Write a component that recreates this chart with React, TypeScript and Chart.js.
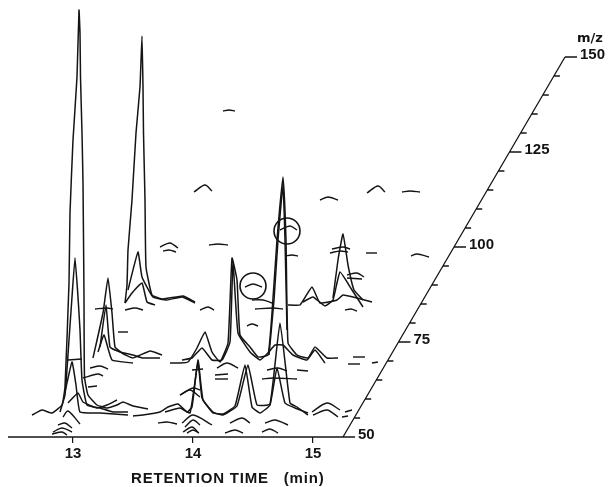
import { useEffect, useRef } from "react";
import { Chart, registerables } from "chart.js";

Chart.register(...registerables);

// x values are scan numbers (about 120 scans per minute), y values are relative heights on the plot plane
const rtTicks = [13, 14, 15];
const mzTickValues = [50, 55, 60, 65, 70, 75, 80, 85, 90, 95, 100, 105, 110, 115, 120, 125, 130, 135, 140, 145, 150];
const mzLabels = [50, 75, 100, 125, 150];

const frontA = { x: [32, 42, 52, 62, 65, 69, 70, 73, 77, 79, 80, 80.5, 82, 83, 84, 84.5, 88, 97, 107, 117, 123, 133, 148], y: [22, 27, 24, 32, 50, 154, 224, 297, 360, 427, 404, 360, 304, 254, 140, 60, 42, 32, 29, 32, 35, 31, 28] };
const frontB = { x: [60, 65, 69, 72, 75, 78, 80, 82, 87, 100, 113, 128], y: [25, 42, 97, 140, 179, 140, 107, 57, 32, 29, 25, 25] };
const frontC = { x: [65, 72, 76, 80, 100, 128], y: [45, 75, 52, 25, 24, 22] };
const frontD = { x: [68, 78, 83, 97, 107, 117], y: [34, 44, 35, 29, 32, 37] };
const frontE = { x: [133, 143, 160, 168, 178, 187, 192, 198, 203, 213, 223, 237, 248, 257, 270, 280, 290, 297, 308], y: [21, 22, 25, 30, 33, 25, 30, 77, 37, 25, 22, 31, 72, 32, 33, 114, 34, 30, 22] };
const frontF = { x: [165, 180, 190, 198, 202, 213, 223, 235, 245, 252, 260, 270, 277, 285, 295, 308], y: [25, 29, 24, 75, 39, 24, 23, 31, 72, 30, 24, 32, 69, 34, 29, 24] };

const midA = { x: [93, 103, 108, 112, 115, 122, 133, 150, 162], y: [79, 124, 159, 124, 90, 84, 79, 86, 82] };
const midB = { x: [100, 106, 110, 120, 133, 143, 160], y: [90, 132, 90, 85, 82, 79, 79] };
const midC = { x: [98, 104, 112, 133], y: [85, 102, 77, 74] };
const midD = { x: [170, 180, 188, 197, 205, 212, 220, 228, 232, 237, 240, 250, 258, 268, 272, 277, 283, 286, 288, 297, 308, 315, 327, 338], y: [74, 74, 75, 89, 105, 85, 75, 94, 179, 157, 102, 90, 80, 82, 124, 197, 260, 197, 94, 82, 79, 90, 79, 79] };
const midE = { x: [182, 192, 202, 212, 222, 230, 233, 238, 250, 260, 268, 275, 283, 293, 307, 315, 325], y: [77, 79, 89, 77, 77, 95, 175, 104, 85, 77, 84, 92, 92, 82, 77, 87, 74] };
const midF = { x: [269, 274, 278, 283, 285, 287], y: [82, 137, 197, 252, 197, 107] };

const backA = { x: [125, 127, 128, 132, 136, 140, 142, 143, 143.5, 145, 146, 152, 163, 183, 195], y: [134, 152, 187, 237, 304, 350, 401, 350, 304, 237, 170, 142, 138, 141, 135] };
const backB = { x: [128, 138, 142, 153, 167, 182, 195], y: [147, 185, 160, 140, 137, 140, 134] };
const backC = { x: [125, 132, 142, 147, 155], y: [134, 144, 154, 135, 132] };
const backD = { x: [288, 300, 312, 320, 337, 343, 357, 372], y: [132, 132, 150, 134, 137, 142, 139, 135] };
const backE = { x: [303, 313, 325, 333, 340, 352, 363], y: [135, 140, 131, 137, 165, 147, 130] };
const backF = { x: [333, 338, 343, 348, 354, 363], y: [139, 177, 203, 172, 147, 137] };

const mainTraces = [frontA, frontB, frontC, frontD, frontE, frontF, midA, midB, midC, midD, midE, midF, backA, backB, backC, backD, backE, backF];

// Low-intensity fragments: [x, height] runs
const shortArcs: number[][][] = [
  [[223, 326], [229, 327], [235, 326]], [[194, 245], [205, 252], [212, 246]], [[160, 190], [170, 194], [178, 189]],
  [[163, 186], [169, 187], [176, 185]], [[209, 192], [218, 193], [228, 192]], [[320, 237], [328, 240], [338, 237]],
  [[367, 244], [378, 251], [385, 245]], [[402, 245], [410, 246], [420, 245]], [[285, 181], [292, 182], [298, 181]],
  [[366, 184], [377, 184]], [[411, 181], [417, 183], [429, 180]], [[280, 207], [290, 211], [297, 207]],
  [[245, 150], [253, 153], [262, 150]], [[332, 188], [343, 190], [350, 188]], [[330, 184], [340, 186], [348, 185]],
  [[347, 162], [357, 164], [364, 160]], [[347, 159], [362, 158]], [[345, 127], [351, 128], [357, 126]],
  [[200, 127], [208, 130], [214, 127]], [[252, 137], [263, 137], [272, 134]], [[255, 128], [273, 129], [283, 128]],
  [[247, 111], [252, 113], [258, 111]], [[353, 80], [365, 80]], [[348, 73], [360, 73]], [[372, 74], [378, 75]],
  [[192, 67], [203, 68]], [[217, 69], [227, 74], [238, 69]], [[215, 62], [228, 63]], [[215, 58], [228, 58]],
  [[267, 67], [278, 69], [287, 66]], [[297, 67], [308, 66]], [[262, 58], [273, 59], [297, 58]],
  [[180, 42], [190, 47], [200, 40]], [[230, 14], [242, 19], [250, 14]], [[265, 14], [275, 17], [288, 12]],
  [[182, 14], [193, 22], [212, 12]], [[183, 5], [192, 10], [198, 5]], [[225, 4], [235, 7], [243, 4]],
  [[262, 5], [270, 8], [278, 4]], [[313, 22], [327, 27], [338, 20]], [[312, 25], [327, 34], [340, 27]],
  [[342, 20], [348, 21]], [[345, 25], [352, 27]], [[53, 5], [62, 9], [72, 5]], [[52, 3], [62, 5], [67, 2]],
  [[58, 12], [65, 14], [72, 9]], [[63, 20], [68, 26], [80, 13]], [[83, 59], [98, 63], [103, 61]],
  [[90, 69], [100, 71], [108, 68]], [[88, 50], [97, 51]], [[118, 105], [128, 105]],
  [[95, 128], [107, 129], [113, 128]], [[125, 127], [135, 129], [143, 127]], [[158, 14], [167, 15], [177, 13]],
  [[68, 77], [82, 78]], [[180, 42], [193, 49], [200, 47]], [[185, 10], [193, 17], [200, 12]], [[187, 4], [193, 7], [199, 4]],
];

const circledPeaks = [{ x: 287, y: 206 }, { x: 253, y: 151 }];
const baseLine = [{ x: 8, y: 0 }, { x: 355, y: 0 }];

const INK = "#141414";
const mzOrigin = 343;
const mzDx = 2.22;
const mzDy = 3.8;
const project = (mz: number) => ({ x: mzOrigin + (mz - 50) * mzDx, y: (mz - 50) * mzDy });

const gap = { x: NaN, y: NaN };
const mzAxisLine = () => {
  const pts: { x: number; y: number }[] = [project(50), project(150), gap];
  mzTickValues.forEach((m) => {
    if (m === 50) return;
    const p = project(m);
    const len = mzLabels.includes(m) ? 12 : 6;
    pts.push(p, { x: p.x + len, y: p.y }, gap);
  });
  return pts;
};

const textPlugin = {
  id: "mzText",
  afterDraw(chart: any) {
    const { ctx, scales } = chart;
    ctx.save();
    ctx.fillStyle = INK;
    ctx.textBaseline = "middle";
    ctx.textAlign = "left";
    ctx.font = "bold 15px 'Liberation Sans'";
    mzLabels.forEach((m) => {
      const p = project(m);
      ctx.fillText(String(m), scales.x.getPixelForValue(p.x) + 15, scales.y.getPixelForValue(p.y) - 2);
    });
    ctx.font = "bold 13px 'DejaVu Sans'";
    ctx.fillText("m/z", 577, 39);
    ctx.font = "bold 15px 'Liberation Sans'";
    ctx.letterSpacing = "0.8px";
    ctx.fillText("RETENTION TIME   (min)", 131, 479);
    ctx.restore();
  },
};

const line = (data: any[], width = 1.2, tension = 0) => ({
  type: "line" as const,
  data,
  borderColor: INK,
  borderWidth: width,
  pointRadius: 0,
  tension,
  fill: false,
  spanGaps: false,
  parsing: false as const,
});

export default function App() {
  const ref = useRef<HTMLCanvasElement>(null);
  useEffect(() => {
    const datasets: any[] = [
      line(baseLine, 1.4),
      line(mzAxisLine(), 1.3),
      ...mainTraces.map((t) => line(t.x.map((x, i) => ({ x, y: t.y[i] })), 1.5, 0.12)),
      ...shortArcs.map((a) => line(a.map(([x, y]) => ({ x, y })), 1.4, 0.3)),
      {
        type: "scatter",
        data: circledPeaks,
        showLine: false,
        pointRadius: 13,
        pointStyle: "circle",
        borderColor: INK,
        backgroundColor: "transparent",
        borderWidth: 1.6,
        parsing: false,
      },
    ];
    const chart = new Chart(ref.current!, {
      type: "scatter",
      data: { datasets },
      plugins: [textPlugin],
      options: {
        animation: false,
        responsive: false,
        layout: { padding: 0, autoPadding: false },
        plugins: { legend: { display: false }, tooltip: { enabled: false } },
        scales: {
          x: {
            type: "linear",
            min: 0,
            max: 609,
            position: { y: 0 } as any,
            border: { display: false },
            grid: { drawOnChartArea: false, drawTicks: true, tickLength: 6, color: INK, lineWidth: 1.2 },
            afterBuildTicks: (scale: any) => {
              scale.ticks = rtTicks.map((rt) => ({ value: 73 + (rt - 13) * 120 }));
            },
            afterFit: (scale: any) => {
              scale.height = 0;
              scale.paddingLeft = 0;
              scale.paddingRight = 0;
              scale.paddingTop = 0;
              scale.paddingBottom = 0;
            },
            ticks: {
              color: INK,
              font: { family: "'Liberation Sans'", weight: "bold", size: 15 },
              padding: 2,
              maxRotation: 0,
              autoSkip: false,
              callback: (v: any) => String(Math.round(13 + (Number(v) - 73) / 120)),
            },
          },
          y: { type: "linear", min: -50, max: 437, display: false },
        },
      },
    });
    return () => chart.destroy();
  }, []);
  return (
    <div style={{ position: "fixed", left: 0, top: 0, width: 609, height: 487, background: "#fff" }}>
      <canvas ref={ref} width={609} height={487} style={{ display: "block" }} />
    </div>
  );
}
